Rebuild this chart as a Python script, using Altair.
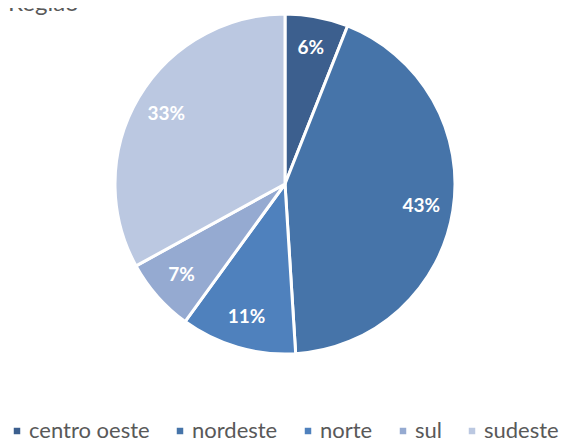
import altair as alt
import pandas as pd

regions = ["centro oeste", "nordeste", "norte", "sul", "sudeste"]
shares = [6, 43, 11, 7, 33]
colors = ["#3C5F8E", "#4674A9", "#4F81BD", "#95AAD1", "#BBC8E1"]

df = pd.DataFrame({"region": regions, "share": shares, "idx": list(range(len(regions)))})

W, H = 552, 434
CX, CY = 277, 176
R = 170

color = alt.Color(
    "region:N",
    scale=alt.Scale(domain=regions, range=colors),
    legend=alt.Legend(
        title=None,
        orient="none",
        legendX=-2,
        legendY=412,
        direction="horizontal",
        labelFont="Lato",
        labelFontSize=22,
        labelColor="#595959",
        symbolType="square",
        symbolSize=42,
        symbolStrokeWidth=0,
        labelOffset=1,
        columnPadding=19,
        symbolOffset=0,
        padding=0,
    ),
)

base = alt.Chart(df).encode(
    theta=alt.Theta("share:Q", stack=True),
    order=alt.Order("idx:Q"),
)

arcs = base.mark_arc(radius=R, stroke="white", strokeWidth=3).encode(
    color=color,
    x=alt.value(CX),
    y=alt.value(CY),
)

labels = base.transform_calculate(label="datum.share + '%'").mark_text(
    radius=138, font="Lato", fontSize=19, fontWeight="bold", color="white"
).encode(
    text="label:N",
    detail="region:N",
    x=alt.value(CX),
    y=alt.value(CY),
)

title = alt.Chart(pd.DataFrame({"t": ["Região"]})).mark_text(
    font="Lato", fontSize=24, color="#595959", align="left", baseline="alphabetic"
).encode(text="t:N", x=alt.value(0), y=alt.value(3))

chart = (
    alt.layer(arcs, labels, title)
    .properties(width=W, height=H, autosize=alt.AutoSizeParams(type="none"), padding=0)
    .configure_view(stroke=None)
)

chart.save("out.html", embed_options={"renderer": "svg", "actions": False})
